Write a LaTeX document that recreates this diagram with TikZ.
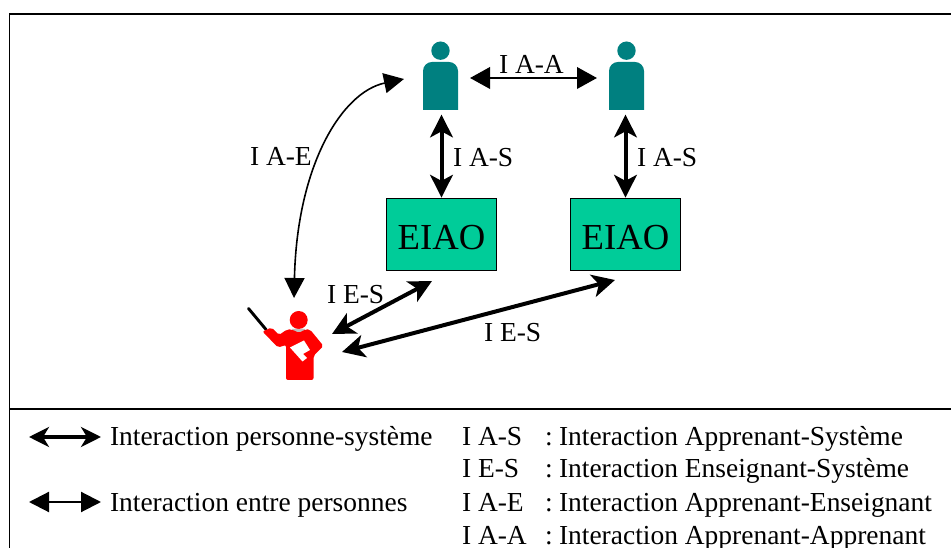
\documentclass[tikz,border=0pt]{standalone}
\usepackage{fontspec}
\setmainfont{Liberation Serif}
\usetikzlibrary{arrows.meta}
\definecolor{tealp}{RGB}{0,128,128}
\definecolor{greenb}{RGB}{0,204,153}
\definecolor{redp}{RGB}{255,0,0}
\tikzset{
  x=0.75pt,y=-0.75pt,
  lab/.style={font=\fontsize{20.6pt}{22pt}\selectfont,anchor=base west,inner sep=0pt,outer sep=0pt},
  sysbox/.style={draw=black,line width=0.9pt,fill=greenb,minimum width=83pt,minimum height=54.5pt,inner sep=0pt,text height=21.8pt,text depth=0pt,font=\fontsize{27.5pt}{30pt}\selectfont},
  holder/.style={minimum width=26.25pt,minimum height=51pt,inner sep=0pt,outer sep=0pt},
  thick arrow/.style={line width=3pt,{Stealth[length=17pt,width=17pt,inset=4.5pt]}-{Stealth[length=17pt,width=17pt,inset=4.5pt]}},
  thin arrow/.style={line width=2pt,{Triangle[length=15pt,width=16pt]}-{Triangle[length=15pt,width=16pt]}},
  frameline/.style={line width=0.8pt,draw=black},
}
\newcommand{\learner}[1]{%
  \begin{scope}[shift={(#1)}]
    \fill[tealp] (0,-35.3) circle[radius=9.2];
    \fill[tealp] (-17.5,24) -- (-17.5,-15) arc[start angle=180,end angle=270,radius=9] -- (8.5,-24) arc[start angle=270,end angle=360,radius=9] -- (17.5,24) -- cycle;
  \end{scope}}
\begin{document}
\begin{tikzpicture}
\useasboundingbox (0,0) rectangle (951,548);
\draw[frameline] (951,14) -- (9.5,14) -- (9.5,548);
\draw[frameline] (9.5,409) -- (951,409);

\learner{440.5,86}
\learner{626.5,86}
\node[holder] (a1) at (440.5,76) {};
\node[holder] (a2) at (626.5,76) {};
\node[sysbox] (s1) at (441.5,234.5) {EIAO};
\node[sysbox] (s2) at (625.5,234.5) {EIAO};

% teacher
\node[minimum width=55pt,minimum height=54pt,inner sep=0pt] (t) at (286,344) {};
\draw[line width=2.2pt,line cap=round] (248.5,308.5) -- (266,329.5);
\fill[redp] (298.7,320) circle[radius=9];
\fill[black!25] (292,329) -- (305,329) -- (304,332) -- (299,333) -- (293,332) -- cycle;
\fill[redp,rounded corners=1.5pt] (271.5,327.5) -- (279,335) -- (287,329.5) -- (292,329.5) -- (299,333) -- (305,329.5) -- (310,329.5) -- (323.5,346) -- (313.5,356) -- (313.5,380) -- (286,380) -- (286,345) -- (278,347.5) -- (262.5,331.5) -- cycle;
\fill[white] (290,347.5) -- (304,340.5) -- (310,350) -- (303,354) -- (307,358) -- (302.5,361.5) -- cycle;

% connectors
\draw[thin arrow,shorten <=12pt*0.75,shorten >=12pt*0.75] (a1.east |- 0,78) -- (a2.west |- 0,78);
\draw[thick arrow,shorten <=3.5pt] (a1.south -| s1.north) -- (s1.north);
\draw[thick arrow,shorten <=3.5pt] (a2.south -| s2.north) -- (s2.north);
\coordinate (te1) at (332,334);
\coordinate (te2) at (342,352);
\coordinate (s1b) at (432,281);
\coordinate (s2b) at (615,280);
\coordinate (a1l) at (404,79);
\coordinate (th) at (294,298);
\draw[thick arrow] (te1) -- (s1b);
\draw[thick arrow] (te2) -- (s2b);
\draw[line width=1.2pt,{Triangle[length=15pt,width=15pt]}-{Triangle[length=15pt,width=15pt]}] (a1l) .. controls (342,92) and (297,165) .. (th);

% labels
\node[lab] (l1) at (499,74) {I A-A};
\node[lab] (l2) at (453,167) {I A-S};
\node[lab] (l3) at (637,167) {I A-S};
\node[lab] (l4) at (250,166) {I A-E};
\node[lab] (l5) at (327,304) {I E-S};
\node[lab] (l6) at (484,342) {I E-S};

% legend
\coordinate (k1a) at (29,437);
\coordinate (k1b) at (101,437);
\coordinate (k2a) at (29,502);
\coordinate (k2b) at (101,502);
\draw[line width=3pt,{Stealth[length=15pt,width=15pt,inset=4.5pt]}-{Stealth[length=15pt,width=15pt,inset=4.5pt]}] (k1a) -- (k1b);
\draw[line width=1.6pt,{Triangle[length=15pt,width=15pt]}-{Triangle[length=15pt,width=15pt]}] (k2a) -- (k2b);
\node[lab] (k1t) at (110,446) {Interaction personne-système};
\node[lab] (k2t) at (110,512) {Interaction entre personnes};
\node[lab] (c1) at (462,446) {I A-S};
\node[lab] (c2) at (462,478) {I E-S};
\node[lab] (c3) at (462,512) {I A-E};
\node[lab] (c4) at (462,545) {I A-A};
\node[lab] (d1) at (545,446) {:\hspace{4.8pt}Interaction Apprenant-Système};
\node[lab] (d2) at (545,478) {:\hspace{4.8pt}Interaction Enseignant-Système};
\node[lab] (d3) at (545,512) {:\hspace{4.8pt}Interaction Apprenant-Enseignant};
\node[lab] (d4) at (545,545) {:\hspace{4.8pt}Interaction Apprenant-Apprenant};
\end{tikzpicture}
\end{document}
